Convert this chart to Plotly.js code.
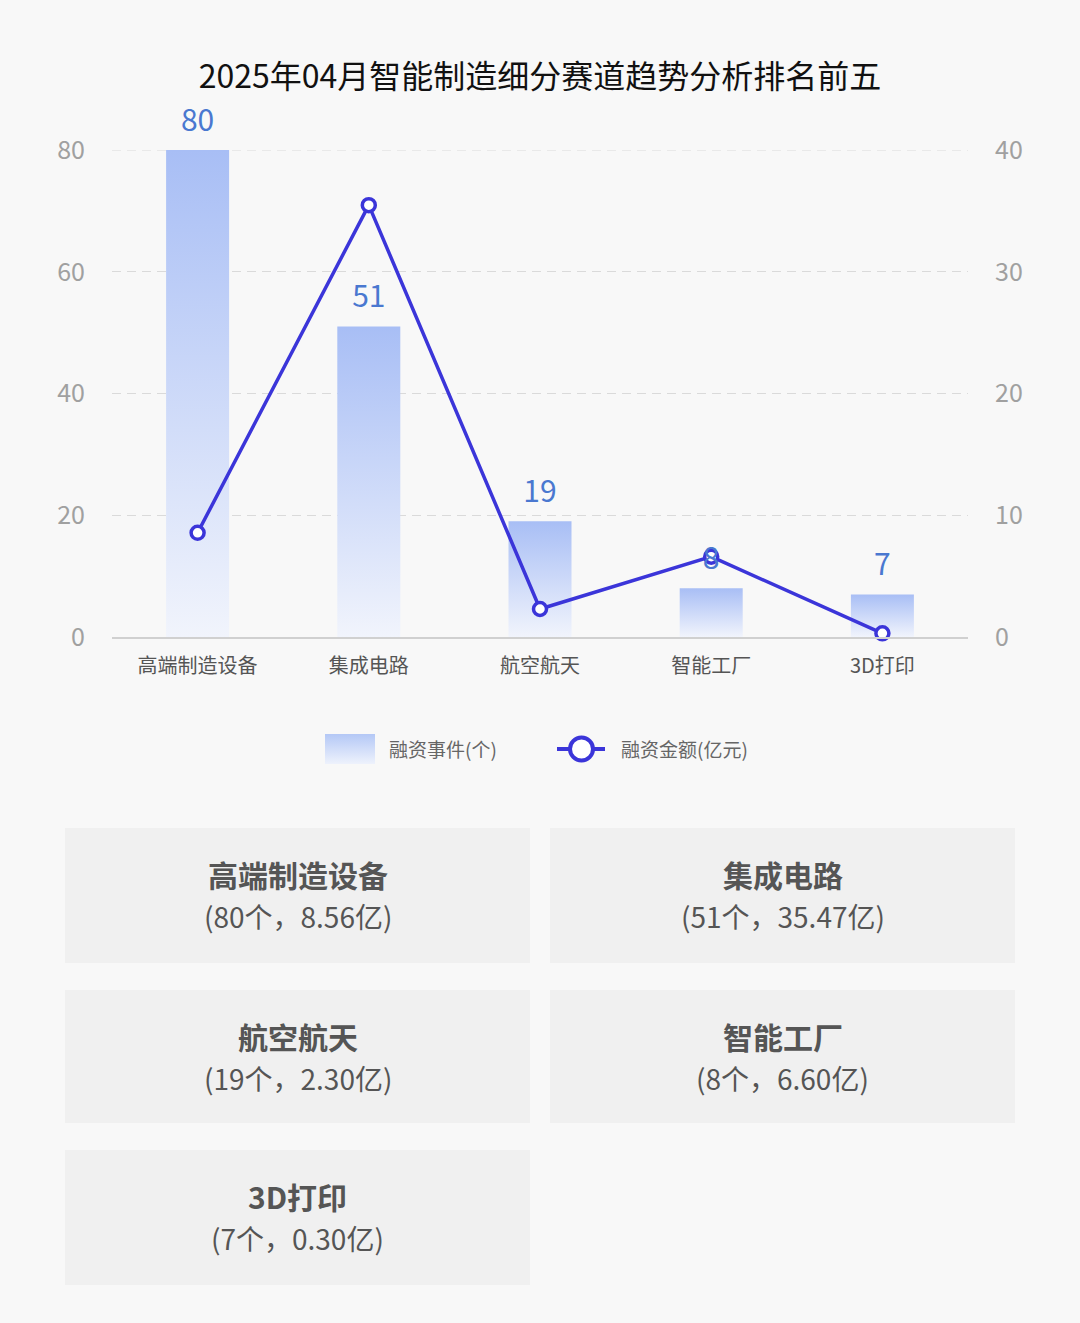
<!DOCTYPE html>
<html>
<head>
<meta charset="utf-8">
<script src="https://cdn.plot.ly/plotly-3.0.1.min.js"></script>
<style>
html,body{margin:0;padding:0;background:#f8f8f8;}
#chart{width:1080px;height:1323px;}
</style>
</head>
<body>
<div id="chart"></div>
<script>
const categories = ['高端制造设备', '集成电路', '航空航天', '智能工厂', '3D打印'];
const eventCounts = [80, 51, 19, 8, 7];
const amounts = [8.56, 35.47, 2.30, 6.60, 0.30];
const amountLabels = ['8.56', '35.47', '2.30', '6.60', '0.30'];
const leftTicks = [0, 20, 40, 60, 80];
const rightTicks = [0, 10, 20, 30, 40];
const titleText = '2025年04月智能制造细分赛道趋势分析排名前五';
const seriesNames = ['融资事件(个)', '融资金额(亿元)'];

const W = 1080, H = 1323;
const PL = 112, PR = 968, PT = 150, PB = 637;
const fx = px => px / W;
const fy = py => 1 - py / H;
const FONT = '"Noto Sans CJK SC", "Noto Sans", sans-serif';
const LINE_COLOR = '#3b35d9';
const BAR_SCALE = [[0, '#f1f4fc'], [1, '#a8bef5']];
const GRID_COLOR = '#dadada';
const GRID_DASH = '9px,6px';

const halfW = 0.184;
const traces = [];
categories.forEach((c, i) => {
  const v = eventCounts[i];
  traces.push({
    type: 'scatter', mode: 'none', fill: 'toself',
    x: [i - halfW, i + halfW, i + halfW, i - halfW, i - halfW],
    y: [0, 0, v, v, 0],
    fillgradient: {type: 'vertical', colorscale: BAR_SCALE},
    name: seriesNames[0], showlegend: false, hoverinfo: 'skip'
  });
});
// value labels on a companion axis with the same scale, lifted a few px
const pxPerUnit = (PB - PT) / 80;
const lift = 12;
const extra = 10;
traces.push({
  type: 'scatter', mode: 'text', x: categories.map((c, i) => i), y: eventCounts,
  yaxis: 'y3', cliponaxis: false,
  text: eventCounts.map(String), textposition: 'top center',
  textfont: {size: 30, color: '#4a78d0', family: FONT},
  showlegend: false, hoverinfo: 'skip'
});
traces.push({
  type: 'scatter', mode: 'lines+markers', x: categories.map((c, i) => i), y: amounts,
  yaxis: 'y2', name: seriesNames[1], cliponaxis: false, showlegend: false,
  line: {color: LINE_COLOR, width: 3.5},
  marker: {symbol: 'circle', size: 13, color: '#ffffff', line: {color: LINE_COLOR, width: 3.5}}
});
// legend swatch for bars (gradient) on its own small axes
traces.push({
  type: 'scatter', mode: 'none', fill: 'toself', xaxis: 'x4', yaxis: 'y4',
  x: [0, 1, 1, 0, 0], y: [0, 0, 1, 1, 0],
  fillgradient: {type: 'vertical', colorscale: [[0, '#eef2fc'], [1, '#b4c8f6']]},
  showlegend: false, hoverinfo: 'skip'
});

const shapes = [];
const annotations = [];
// top gridline
const topTick = leftTicks[leftTicks.length - 1];
shapes.push({type: 'line', xref: 'paper', yref: 'y', x0: fx(PL), x1: fx(PR), y0: topTick, y1: topTick,
  line: {color: GRID_COLOR, width: 1.2, dash: GRID_DASH}, layer: 'below'});
// legend line icon
const legY = 749;
shapes.push({type: 'line', xref: 'paper', yref: 'paper', x0: fx(557), x1: fx(605), y0: fy(legY), y1: fy(legY),
  line: {color: LINE_COLOR, width: 4}});
shapes.push({type: 'circle', xref: 'paper', yref: 'paper', x0: fx(570), x1: fx(593), y0: fy(legY + 11.5), y1: fy(legY - 11.5),
  fillcolor: '#ffffff', line: {color: LINE_COLOR, width: 4}});
annotations.push({xref: 'paper', yref: 'paper', x: fx(387), y: fy(legY - 1), xanchor: 'left', yanchor: 'middle',
  text: seriesNames[0], showarrow: false, font: {size: 19, color: '#666666', family: FONT}});
annotations.push({xref: 'paper', yref: 'paper', x: fx(619), y: fy(legY - 1), xanchor: 'left', yanchor: 'middle',
  text: seriesNames[1], showarrow: false, font: {size: 19, color: '#666666', family: FONT}});

const boxes = [
  [65, 530, 828, 963], [550, 1015, 828, 963],
  [65, 530, 990, 1123], [550, 1015, 990, 1123],
  [65, 530, 1150, 1285]
];
categories.forEach((c, i) => {
  const b = boxes[i];
  shapes.push({type: 'rect', xref: 'paper', yref: 'paper', layer: 'below',
    x0: fx(b[0]), x1: fx(b[1]), y0: fy(b[3]), y1: fy(b[2]),
    fillcolor: '#f0f0f0', line: {width: 0}});
  const cx = (b[0] + b[1]) / 2;
  annotations.push({xref: 'paper', yref: 'paper', x: fx(cx), y: fy(b[2] + 46),
    text: '<b>' + c + '</b>', showarrow: false, xanchor: 'center', yanchor: 'middle',
    font: {size: 30, color: '#555555', family: FONT}});
  annotations.push({xref: 'paper', yref: 'paper', x: fx(cx), y: fy(b[2] + 88),
    text: '(' + eventCounts[i] + '个，' + amountLabels[i] + '亿)', showarrow: false,
    xanchor: 'center', yanchor: 'middle',
    font: {size: 28, color: '#555555', family: FONT}});
});

const layout = {
  width: W, height: H,
  margin: {l: 0, r: 0, t: 0, b: 0},
  paper_bgcolor: '#f8f8f8', plot_bgcolor: 'rgba(0,0,0,0)',
  font: {family: FONT, color: '#555555'},
  showlegend: false,
  title: {text: titleText, x: 0.5, xanchor: 'center', y: fy(77), yanchor: 'middle',
    font: {size: 32, color: '#111111', family: FONT}},
  xaxis: {domain: [fx(PL), fx(PR)], range: [-0.5, 4.5], tickvals: categories.map((c, i) => i), ticktext: categories,
    showgrid: false, zeroline: false, showline: true, linecolor: '#d0d0d0', linewidth: 1.5,
    ticks: '', ticklabelstandoff: 10, tickfont: {size: 20, color: '#555555', family: FONT},
    fixedrange: true},
  yaxis: {domain: [fy(PB), fy(PT)], range: [0, 80], tickvals: leftTicks, showgrid: true, gridcolor: GRID_COLOR,
    griddash: GRID_DASH, gridwidth: 1.2, zeroline: false, showline: false, ticks: '',
    ticklabelstandoff: 26, tickfont: {size: 25, color: '#a0a0a0', family: FONT}},
  yaxis2: {range: [0, 40], tickvals: rightTicks, overlaying: 'y', side: 'right',
    showgrid: false, zeroline: false, showline: false, ticks: '',
    ticklabelstandoff: 26, tickfont: {size: 25, color: '#a0a0a0', family: FONT}},
  yaxis3: {domain: [fy(PB - lift), fy(PT - lift - extra * pxPerUnit)], range: [0, 80 + extra],
    anchor: 'x', visible: false},
  xaxis4: {domain: [fx(325), fx(375)], range: [0, 1], visible: false, anchor: 'y4'},
  yaxis4: {domain: [fy(764), fy(734)], range: [0, 1], visible: false, anchor: 'x4'},
  shapes: shapes,
  annotations: annotations
};

Plotly.newPlot('chart', traces, layout, {displayModeBar: false, staticPlot: true});
</script>
</body>
</html>
